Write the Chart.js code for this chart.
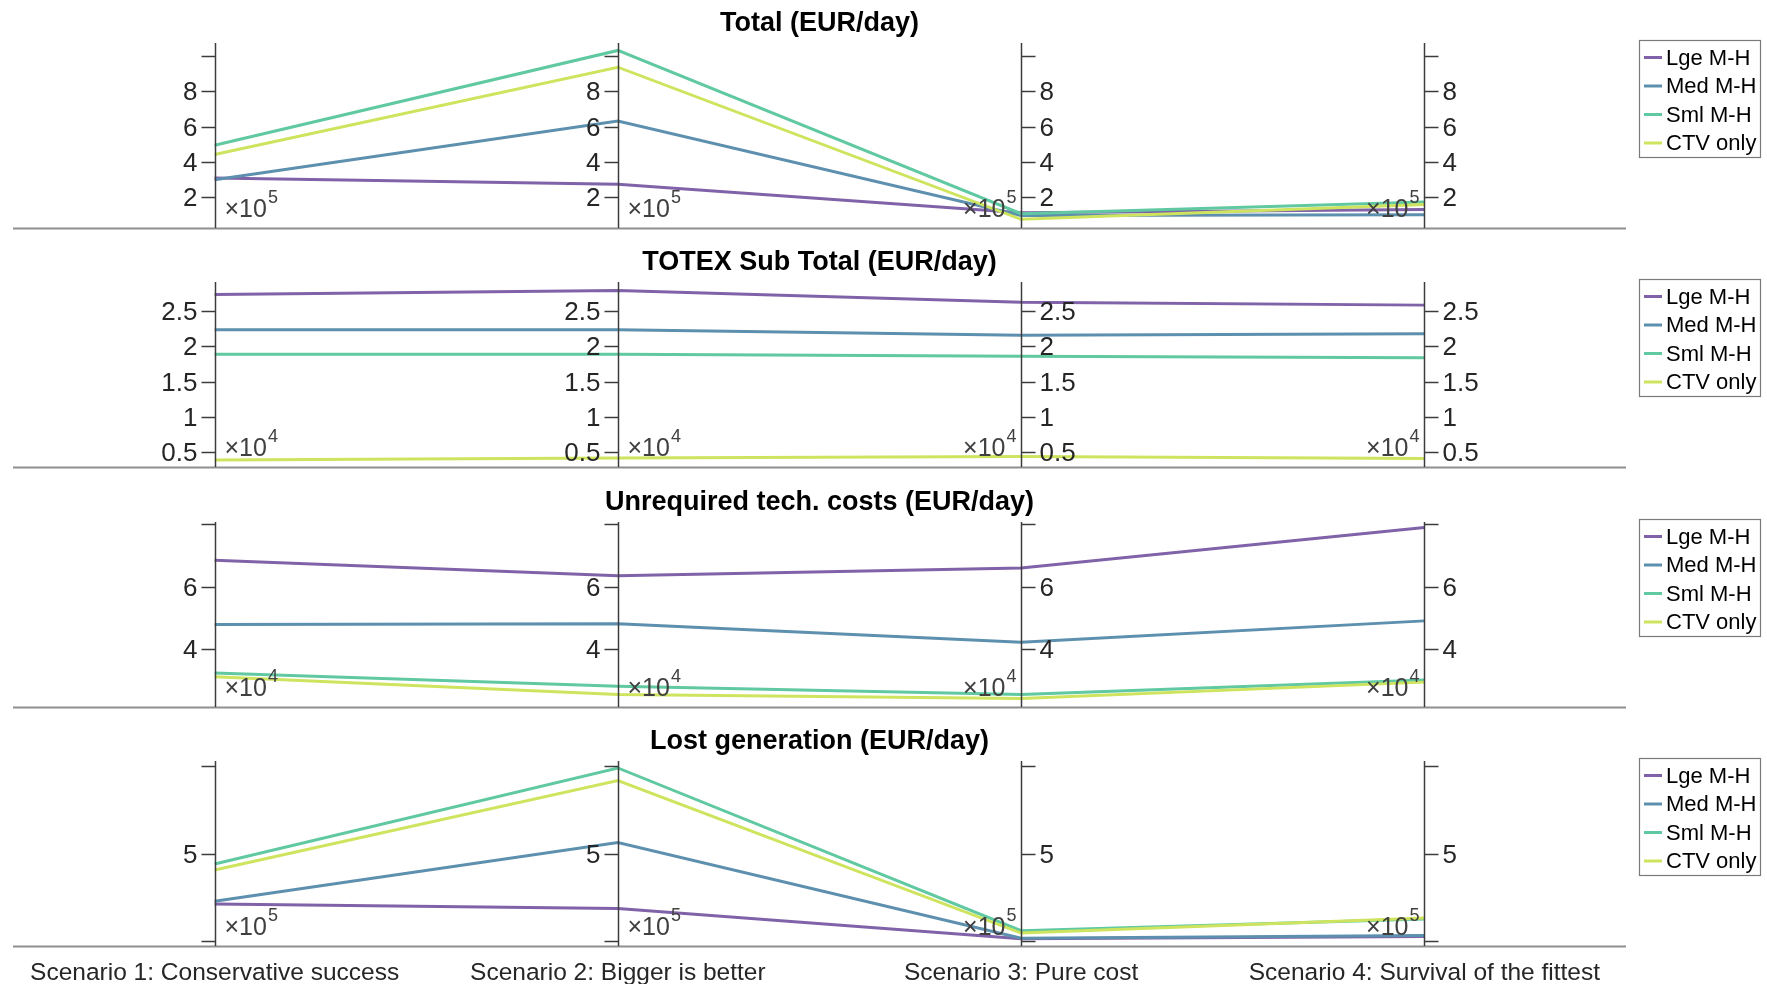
<!DOCTYPE html>
<html>
<head>
<meta charset="utf-8">
<script src="https://cdn.jsdelivr.net/npm/chart.js@4.4.1/dist/chart.umd.min.js"></script>
<style>
  html, body { margin: 0; padding: 0; background: #ffffff; }
  #wrap { position: relative; width: 1767px; height: 984px; overflow: hidden; background: #fff; }
  canvas { position: absolute; left: 0; }
</style>
</head>
<body>
<div id="wrap">
  <canvas id="c0" width="1767" height="239" style="top:0px"></canvas>
  <canvas id="c1" width="1767" height="239" style="top:239px"></canvas>
  <canvas id="c2" width="1767" height="239" style="top:479px"></canvas>
  <canvas id="c3" width="1767" height="266" style="top:718px"></canvas>
</div>
<script>
// ---------- DATA ----------
const categories = [
  'Scenario 1: Conservative success',
  'Scenario 2: Bigger is better',
  'Scenario 3: Pure cost',
  'Scenario 4: Survival of the fittest'
];
const seriesNames = ['Lge M-H', 'Med M-H', 'Sml M-H', 'CTV only'];

// Total (EUR/day)
const totalLge = [310000, 275000, 114000, 132000];
const totalMed = [300000, 632000, 98000, 102000];
const totalSml = [495000, 1032000, 108000, 174000];
const totalCtv = [443000, 937000, 76000, 160000];

// TOTEX Sub Total (EUR/day)
const totexLge = [27400, 28000, 26300, 25900];
const totexMed = [22400, 22400, 21600, 21800];
const totexSml = [18900, 18900, 18600, 18400];
const totexCtv = [3800, 4100, 4300, 4000];

// Unrequired tech. costs (EUR/day)
const unreqLge = [68500, 63500, 66000, 79000];
const unreqMed = [47800, 48100, 42100, 49000];
const unreqSml = [32200, 28000, 25300, 30000];
const unreqCtv = [31000, 25300, 24000, 29300];

// Lost generation (EUR/day)
const lostLge = [210000, 185000, 12000, 25000];
const lostMed = [226000, 563000, 15000, 30000];
const lostSml = [440000, 990000, 58000, 125000];
const lostCtv = [405000, 918000, 44000, 130000];

// Tick values and labels per panel
const totalTicks = [200000, 400000, 600000, 800000, 1000000];
const totalTickLabels = ['2', '4', '6', '8', ''];
const totexTicks = [5000, 10000, 15000, 20000, 25000];
const totexTickLabels = ['0.5', '1', '1.5', '2', '2.5'];
const unreqTicks = [40000, 60000, 80000];
const unreqTickLabels = ['4', '6', ''];
const lostTicks = [0, 500000, 1000000];
const lostTickLabels = ['', '5', ''];

const titles = ['Total (EUR/day)', 'TOTEX Sub Total (EUR/day)', 'Unrequired tech. costs (EUR/day)', 'Lost generation (EUR/day)'];
const exponents = ['5', '4', '4', '5'];
const yMins = [27000, 2800, 21300, -30000];
const yMaxs = [1074000, 29200, 80800, 1030000];

const colors = ['#8062a8', '#5d90ae', '#60c9a1', '#cfe45e'];

// ---------- DRAWING ----------
const FONT = '"Liberation Sans", Arial, Helvetica, sans-serif';

const parallelAxes = {
  id: 'parallelAxes',
  afterDatasetsDraw(chart, args, o) {
    const ctx = chart.ctx;
    const ca = chart.chartArea;
    const xs = chart.scales.x, ys = chart.scales.y;
    ctx.save();
    // baseline
    ctx.strokeStyle = '#8f8f8f';
    ctx.lineWidth = 2;
    ctx.beginPath();
    ctx.moveTo(ca.left, ca.bottom + 0.5);
    ctx.lineTo(ca.right, ca.bottom + 0.5);
    ctx.stroke();

    for (let i = 0; i < categories.length; i++) {
      const px = Math.round(xs.getPixelForValue(i)) + 0.5;
      const leftSide = i < 2;
      ctx.strokeStyle = '#3c3c3c';
      ctx.lineWidth = 1.5;
      ctx.beginPath();
      ctx.moveTo(px, ca.top);
      ctx.lineTo(px, ca.bottom);
      ctx.stroke();
      ctx.font = '26px ' + FONT;
      ctx.fillStyle = '#262626';
      ctx.textBaseline = 'middle';
      o.ticks.forEach((v, k) => {
        const py = Math.round(ys.getPixelForValue(v)) + 0.5;
        ctx.beginPath();
        if (leftSide) { ctx.moveTo(px - 14, py); ctx.lineTo(px, py); }
        else { ctx.moveTo(px, py); ctx.lineTo(px + 14, py); }
        ctx.stroke();
        const lab = o.labels[k];
        if (lab) {
          ctx.textAlign = leftSide ? 'right' : 'left';
          ctx.fillText(lab, leftSide ? px - 18 : px + 18, py + 1);
        }
      });
      // exponent label
      ctx.fillStyle = '#404040';
      ctx.textBaseline = 'alphabetic';
      ctx.font = '25px ' + FONT;
      const base = '\u00d710';
      const wBase = ctx.measureText(base).width;
      ctx.font = '18px ' + FONT;
      const wExp = ctx.measureText(o.exp).width;
      const startX = leftSide ? px + 9 : px - 6 - wBase - wExp;
      const by = ca.bottom - 11;
      ctx.textAlign = 'left';
      ctx.font = '25px ' + FONT;
      ctx.fillText(base, startX, by);
      ctx.font = '18px ' + FONT;
      ctx.fillText(o.exp, startX + wBase + 1, by - 14);
    }

    // title
    ctx.fillStyle = '#000';
    ctx.font = 'bold 27px ' + FONT;
    ctx.textAlign = 'center';
    ctx.textBaseline = 'middle';
    ctx.fillText(o.title, (ca.left + ca.right) / 2, ca.top - 19);

    // legend
    const lx = 1639, ly = ca.top - 3, lw = 121, lh = 117;
    ctx.fillStyle = '#fff';
    ctx.fillRect(lx, ly, lw, lh);
    ctx.strokeStyle = '#7a7a7a';
    ctx.lineWidth = 1.2;
    ctx.strokeRect(lx + 0.5, ly + 0.5, lw, lh);
    ctx.font = '22px ' + FONT;
    ctx.textAlign = 'left';
    chart.data.datasets.forEach((ds, k) => {
      const ey = ly + 17.5 + k * 28.5;
      ctx.strokeStyle = ds.borderColor;
      ctx.lineWidth = 3;
      ctx.beginPath();
      ctx.moveTo(lx + 5, ey);
      ctx.lineTo(lx + 23, ey);
      ctx.stroke();
      ctx.fillStyle = '#000';
      ctx.fillText(ds.label, lx + 27, ey + 1);
    });

    // category labels
    if (o.showCats) {
      ctx.font = '24.5px ' + FONT;
      ctx.fillStyle = '#262626';
      ctx.textAlign = 'center';
      ctx.textBaseline = 'middle';
      categories.forEach((c, i) => {
        ctx.fillText(c, xs.getPixelForValue(i), ca.bottom + 27);
      });
    }
    ctx.restore();
  }
};

function makeChart(id, series, idx, ticks, labels, bottomPad, showCats) {
  const datasets = series.map((d, k) => ({
    label: seriesNames[k],
    data: d,
    borderColor: colors[k],
    backgroundColor: colors[k],
    borderWidth: 3,
    pointRadius: 0,
    tension: 0,
    fill: false,
    order: 3 - k
  }));
  return new Chart(document.getElementById(id), {
    type: 'line',
    data: { labels: categories, datasets },
    options: {
      responsive: false,
      maintainAspectRatio: false,
      animation: false,
      devicePixelRatio: 1,
      layout: { padding: { left: 13, right: 141, top: 43, bottom: bottomPad } },
      scales: {
        x: { type: 'category', offset: true, display: false },
        y: { type: 'linear', min: yMins[idx], max: yMaxs[idx], display: false }
      },
      plugins: {
        legend: { display: false },
        tooltip: { enabled: false },
        title: { display: false },
        parallelAxes: { ticks, labels, title: titles[idx], exp: exponents[idx], showCats }
      }
    },
    plugins: [parallelAxes]
  });
}

makeChart('c0', [totalLge, totalMed, totalSml, totalCtv], 0, totalTicks, totalTickLabels, 11, false);
makeChart('c1', [totexLge, totexMed, totexSml, totexCtv], 1, totexTicks, totexTickLabels, 11, false);
makeChart('c2', [unreqLge, unreqMed, unreqSml, unreqCtv], 2, unreqTicks, unreqTickLabels, 11, false);
makeChart('c3', [lostLge, lostMed, lostSml, lostCtv], 3, lostTicks, lostTickLabels, 38, true);
</script>
</body>
</html>
